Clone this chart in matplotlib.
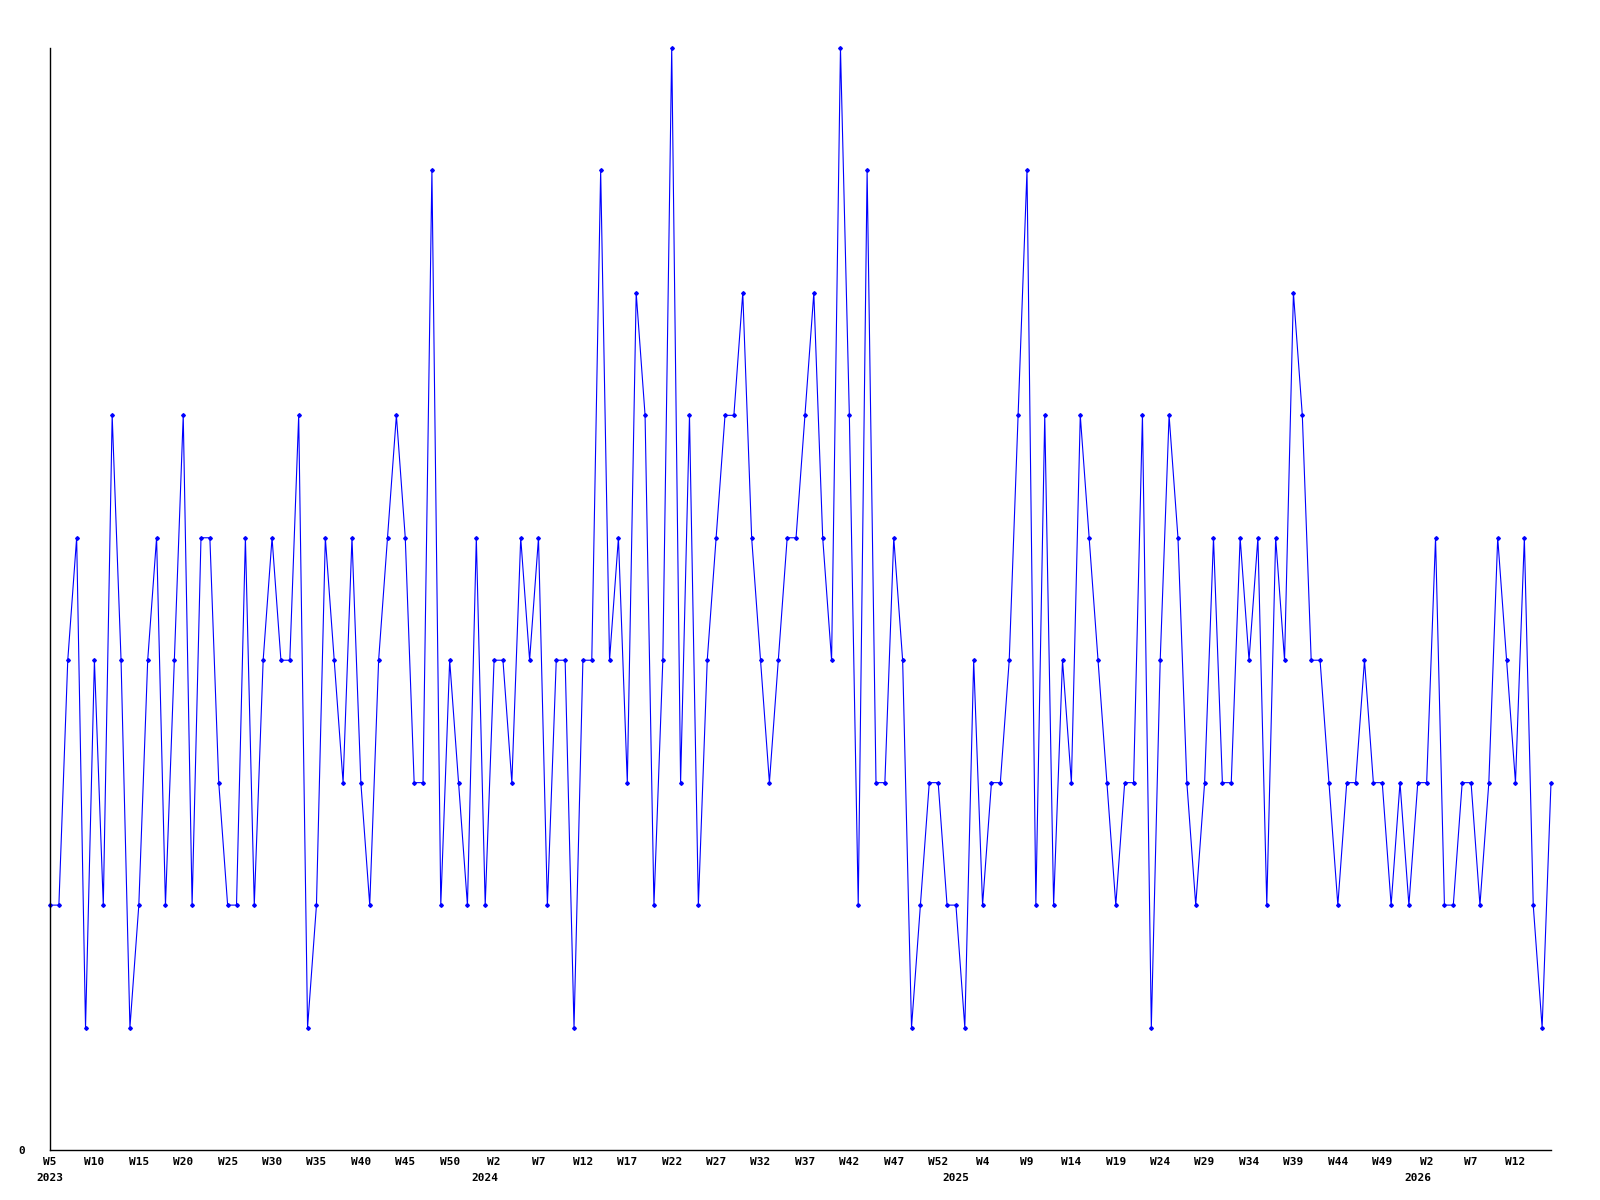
import matplotlib.pyplot as plt

# weekly counts, 2023 W5 .. 2026 W16
counts = [
    2, 2, 4, 5, 1, 4, 2, 6, 4, 1,
    2, 4, 5, 2, 4, 6, 2, 5, 5, 3,
    2, 2, 5, 2, 4, 5, 4, 4, 6, 1,
    2, 5, 4, 3, 5, 3, 2, 4, 5, 6,
    5, 3, 3, 8, 2, 4, 3, 2, 5, 2,
    4, 4, 3, 5, 4, 5, 2, 4, 4, 1,
    4, 4, 8, 4, 5, 3, 7, 6, 2, 4,
    9, 3, 6, 2, 4, 5, 6, 6, 7, 5,
    4, 3, 4, 5, 5, 6, 7, 5, 4, 9,
    6, 2, 8, 3, 3, 5, 4, 1, 2, 3,
    3, 2, 2, 1, 4, 2, 3, 3, 4, 6,
    8, 2, 6, 2, 4, 3, 6, 5, 4, 3,
    2, 3, 3, 6, 1, 4, 6, 5, 3, 2,
    3, 5, 3, 3, 5, 4, 5, 2, 5, 4,
    7, 6, 4, 4, 3, 2, 3, 3, 4, 3,
    3, 2, 3, 2, 3, 3, 5, 2, 2, 3,
    3, 2, 3, 5, 4, 3, 5, 2, 1, 3,
]

years = [2023, 2024, 2025, 2026]
first_weeks = [5, 1, 1, 1]
last_weeks = [53, 53, 52, 16]

week_year = []
week_num = []
for year, first, last in zip(years, first_weeks, last_weeks):
    for w in range(first, last + 1):
        week_year.append(year)
        week_num.append(w)

x = list(range(len(counts)))

font = dict(family="DejaVu Sans Mono", weight="bold", size=8)

fig = plt.figure(figsize=(16, 12), dpi=100)
ax = fig.add_axes([50 / 1600, 1 - 1150 / 1200, 1501 / 1600, 1102 / 1200])

ax.plot(x, counts, color="#0000ff", linewidth=0.8, marker="D",
        markersize=1.9, clip_on=False)

ax.set_xlim(0, len(counts) - 1)
ax.set_ylim(0, 9)

for side in ("top", "right"):
    ax.spines[side].set_visible(False)
for side in ("left", "bottom"):
    ax.spines[side].set_linewidth(1.0)
    ax.spines[side].set_color("black")

tick_pos = x[::5]
ax.set_xticks(tick_pos)
ax.set_xticklabels([f"W{week_num[i]}" for i in tick_pos], fontdict=font)
ax.tick_params(axis="x", length=0, pad=5)

ax.set_yticks([0])
ax.set_yticklabels(["0"], fontdict=font)
ax.tick_params(axis="y", length=0, pad=18)

# year labels under the first week of each year
for year in years:
    i = week_year.index(year)
    ax.annotate(str(year), xy=(i, 0), xycoords=("data", "axes fraction"),
                xytext=(0, -20), textcoords="offset points",
                ha="center", va="center", **font)

fig.savefig("out.png", dpi=100)
